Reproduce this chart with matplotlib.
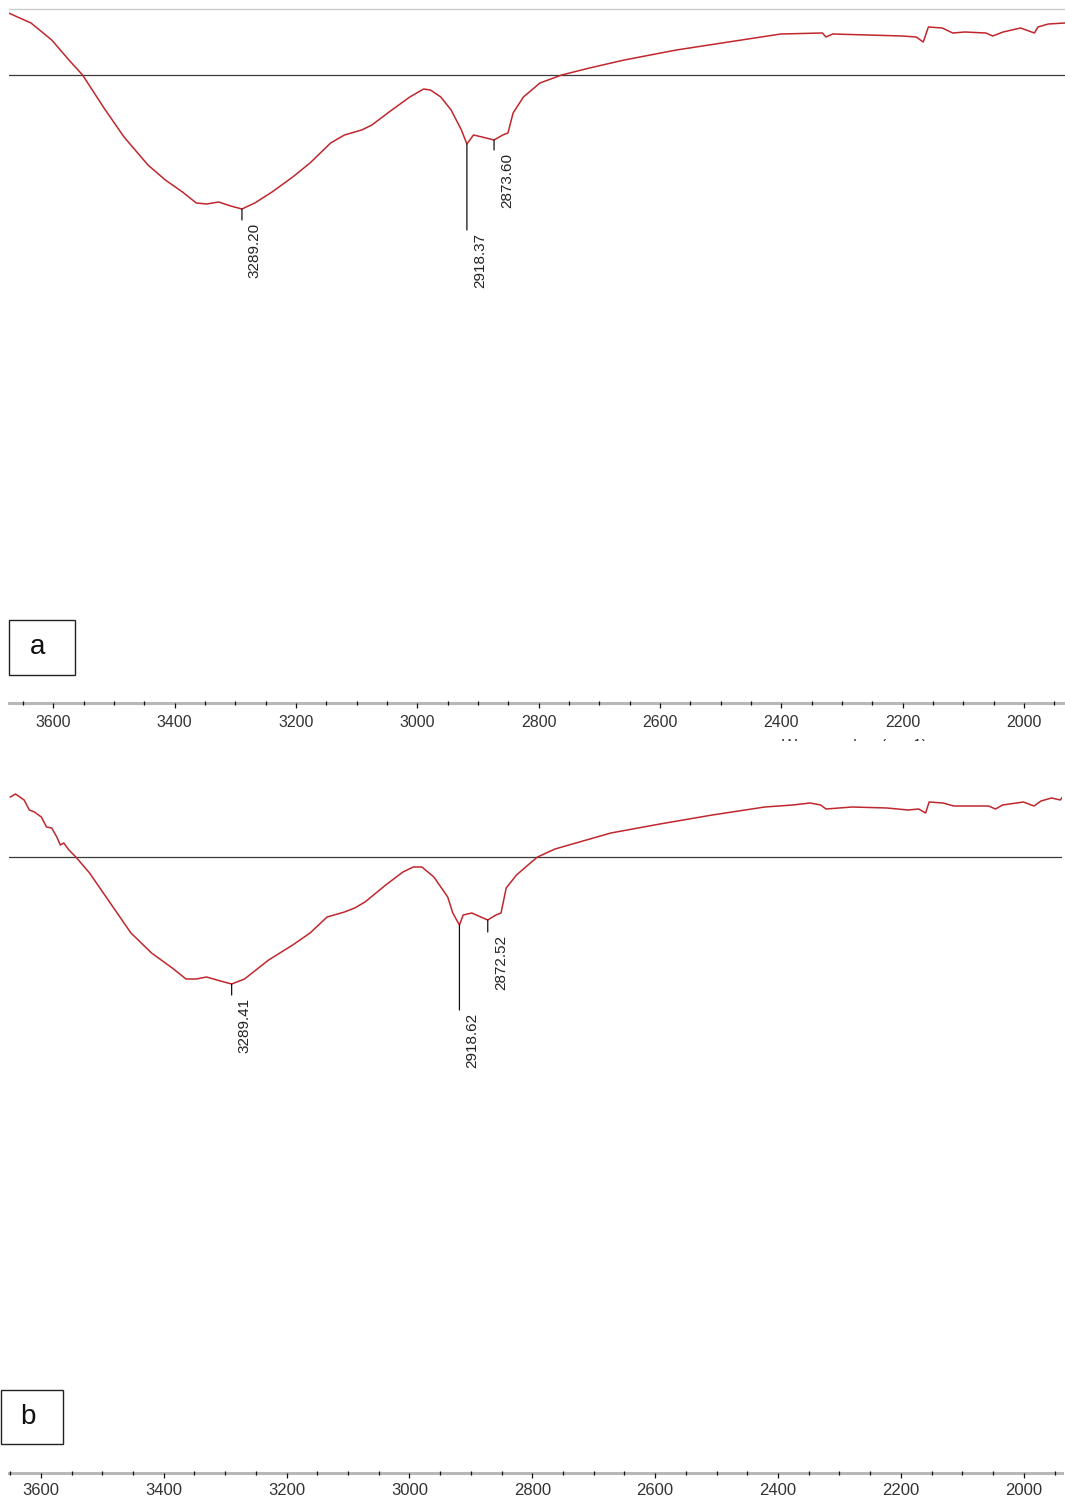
import numpy as np
import matplotlib
matplotlib.use('Agg')
import matplotlib.pyplot as plt
from matplotlib.patches import Rectangle
from matplotlib.ticker import MultipleLocator
from matplotlib.transforms import Bbox, TransformedBbox

# spectrum a (wavenumber cm-1, transmittance in arbitrary units)
wn_a = [3673.9, 3636.9, 3602.8, 3574.4, 3551.9, 3517.7, 3483.6, 3444.1, 3415.5, 3387.2,
        3364.4, 3347.4, 3327.5, 3307.7, 3289.2, 3268.0, 3239.6, 3205.5, 3177.0, 3143.0,
        3120.3, 3091.9, 3075.0, 3046.6, 3012.5, 2989.7, 2978.5, 2961.4, 2944.4, 2927.4,
        2918.37, 2907.5, 2893.3, 2873.6, 2859.2, 2850.7, 2842.2, 2825.2, 2798.0, 2762.1,
        2716.2, 2658.9, 2573.0, 2487.1, 2401.0, 2332.3, 2326.5, 2315.2, 2257.8, 2200.6,
        2177.7, 2166.1, 2157.6, 2134.7, 2117.5, 2097.4, 2062.9, 2051.6, 2034.4, 2005.7,
        1982.8, 1977.0, 1959.9, 1932.4]
tr_a = [69.0, 68.0, 66.3, 64.3, 62.8, 59.6, 56.6, 53.8, 52.3, 51.1,
        50.0, 49.9, 50.1, 49.7, 49.4, 50.0, 51.1, 52.6, 54.0, 56.0,
        56.8, 57.3, 57.8, 59.1, 60.6, 61.4, 61.3, 60.6, 59.3, 57.3,
        55.9, 56.8, 56.6, 56.3, 56.8, 57.0, 59.0, 60.6, 62.0, 62.8,
        63.5, 64.3, 65.3, 66.1, 66.9, 67.0, 66.6, 66.9, 66.8, 66.7,
        66.6, 66.1, 67.6, 67.5, 67.0, 67.1, 67.0, 66.7, 67.1, 67.5,
        67.0, 67.6, 67.9, 68.0]
peaks_a = [3289.20, 2918.37, 2873.60]

# spectrum b
wn_b = [3649.6, 3641.2, 3627.2, 3618.7, 3610.4, 3599.2, 3590.7, 3582.3, 3574.0, 3568.3,
        3562.7, 3554.3, 3543.0, 3520.7, 3487.0, 3453.3, 3419.8, 3386.1, 3363.7, 3346.9,
        3330.1, 3313.4, 3289.41, 3268.4, 3229.2, 3190.0, 3161.8, 3134.0, 3105.8, 3089.1,
        3072.3, 3038.6, 3010.6, 2993.8, 2979.8, 2960.2, 2937.7, 2929.4, 2918.62, 2912.5,
        2898.5, 2872.52, 2859.2, 2850.9, 2842.5, 2825.7, 2803.2, 2791.5, 2763.0, 2723.3,
        2672.1, 2592.3, 2507.0, 2421.5, 2376.1, 2347.7, 2330.6, 2321.9, 2279.3, 2222.5,
        2188.3, 2171.2, 2159.8, 2154.1, 2131.3, 2114.2, 2085.9, 2057.4, 2046.0, 2034.6,
        2000.5, 1983.4, 1972.0, 1954.9, 1940.7, 1937.0]
tr_b = [67.6, 67.9, 67.3, 66.3, 66.1, 65.6, 64.6, 64.5, 63.6, 62.8,
        63.0, 62.3, 61.6, 60.0, 57.0, 54.0, 52.0, 50.5, 49.4, 49.4,
        49.6, 49.3, 48.9, 49.4, 51.3, 52.8, 54.0, 55.6, 56.1, 56.5,
        57.1, 58.8, 60.1, 60.6, 60.6, 59.6, 57.6, 56.0, 54.8, 55.8,
        56.0, 55.3, 55.8, 56.0, 58.5, 59.8, 61.0, 61.6, 62.4, 63.1,
        64.0, 64.9, 65.8, 66.6, 66.8, 67.0, 66.8, 66.4, 66.6, 66.5,
        66.3, 66.4, 66.0, 67.1, 67.0, 66.7, 66.7, 66.7, 66.4, 66.8,
        67.1, 66.7, 67.2, 67.5, 67.3, 67.6]
peaks_b = [3289.41, 2918.62, 2872.52]

W, H = 1065, 1502
RED = '#c0272d'
FONT = ['Liberation Sans', 'DejaVu Sans']


def setup_axis(ax, xlim, ylim, base, top_line, tick_size, pad):
    ax.set_xlim(*xlim)
    ax.set_ylim(*ylim)
    ax.axhline(base, color='#3a3a3a', lw=0.9, zorder=1)
    for s in ['left', 'right']:
        ax.spines[s].set_visible(False)
    ax.spines['top'].set_visible(top_line)
    ax.spines['top'].set_color('#cccccc')
    ax.spines['top'].set_linewidth(1.0)
    ax.spines['bottom'].set_color('#b8b8b8')
    ax.spines['bottom'].set_linewidth(2.2)
    ax.set_yticks([])
    ax.xaxis.set_major_locator(MultipleLocator(200))
    ax.xaxis.set_minor_locator(MultipleLocator(50))
    ax.tick_params(axis='x', which='major', direction='out', length=3.5, width=0.9,
                   color='#111111', pad=pad, labelsize=tick_size, labelcolor='#333333')
    ax.tick_params(axis='x', which='minor', direction='inout', length=2.5, width=0.9,
                   color='#111111')
    for lab in ax.get_xticklabels():
        lab.set_family(FONT)
    ax.xaxis.set_zorder(3)
    ax.patch.set_alpha(0)


def label_peaks(ax, wn, tr, peaks, leads):
    wn = np.asarray(wn)[::-1]
    tr = np.asarray(tr)[::-1]
    for p, lead in zip(peaks, leads):
        t = np.interp(p, wn, tr)
        ax.annotate('', xy=(p, t), xytext=(0, -lead), textcoords='offset pixels',
                    arrowprops=dict(arrowstyle='-', color='#111111', lw=0.9,
                                    shrinkA=0, shrinkB=0))
        ax.annotate('%.2f' % p, xy=(p, t), xytext=(13, -(lead + 3)),
                    textcoords='offset pixels', rotation=90, ha='center', va='top',
                    fontsize=11, family=FONT, color='#222222')


fig = plt.figure(figsize=(W / 100, H / 100), dpi=100)

# panel a
ax_a = fig.add_axes([9 / W, 1 - 703 / H, 1056 / W, 694 / H])
setup_axis(ax_a, (3673.2, 1932.4), (0, 69.4), 62.8, True, 11.5, 5)
ax_a.plot(wn_a, tr_a, color=RED, lw=1.1)
label_peaks(ax_a, wn_a, tr_a, peaks_a, [11, 86, 10])

# panel b
ax_b = fig.add_axes([9 / W, 1 - 1473 / H, 1053 / W, 688 / H])
setup_axis(ax_b, (3651.8, 1937.8), (0, 68.8), 61.6, False, 12, 4)
ax_b.plot(wn_b, tr_b, color=RED, lw=1.1)
label_peaks(ax_b, wn_b, tr_b, peaks_b, [11, 85, 12])

# panel letters in boxes
for (x0, y0, w, h, txt) in [(9, 620, 66, 55, 'a'), (1, 1390, 62, 54, 'b')]:
    fig.add_artist(Rectangle((x0 / W, 1 - (y0 + h) / H), w / W, h / H,
                             transform=fig.transFigure, fill=False,
                             ec='#222222', lw=1.0))
    fig.text((x0 + w / 2 - 4) / W, 1 - (y0 + h / 2) / H, txt, ha='center',
             va='center', fontsize=20, family=FONT, color='#111111')

# cut-off axis title of the upper panel
t = fig.text(855 / W, 1 - 739 / H, 'Wavenumber (cm-1)', ha='center', va='top',
             fontsize=11.5, family=FONT, color='#333333')
t.set_clip_on(True)
t.set_clip_box(TransformedBbox(Bbox([[0, 1 - 741 / H], [1, 1 - 730 / H]]),
                               fig.transFigure))

fig.savefig('out.png', dpi=100)
